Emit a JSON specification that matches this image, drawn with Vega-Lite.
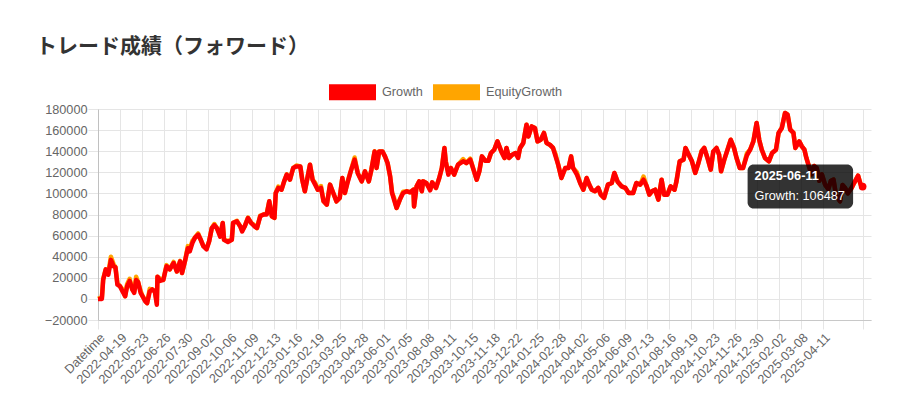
{
  "$schema": "https://vega.github.io/schema/vega-lite/v6.json",
  "width": 773,
  "height": 211,
  "autosize": {"type": "none"},
  "padding": {"left": 98, "top": 109, "right": 29, "bottom": 67},
  "background": "white",
  "title": {
    "text": "トレード成績（フォワード）",
    "anchor": "start",
    "frame": "group",
    "font": "Noto Sans CJK JP",
    "fontSize": 21,
    "fontWeight": "bold",
    "color": "#333333",
    "dx": -62,
    "dy": 19,
    "baseline": "alphabetic",
    "offset": 13.5
  },
  "config": {
    "font": "Liberation Sans",
    "view": {"stroke": null},
    "axisY": {"labelOverlap": false}
  },
  "datasets": {
    "perf": [
      {"day": 0, "Growth": 0, "EquityGrowth": 0},
      {"day": 6, "Growth": 0, "EquityGrowth": 1500},
      {"day": 8, "Growth": 18000, "EquityGrowth": 19000},
      {"day": 12, "Growth": 28000, "EquityGrowth": 28000},
      {"day": 16, "Growth": 23000, "EquityGrowth": 25000},
      {"day": 20, "Growth": 37000, "EquityGrowth": 40000},
      {"day": 24, "Growth": 31000, "EquityGrowth": 33000},
      {"day": 27, "Growth": 30000, "EquityGrowth": 30000},
      {"day": 30, "Growth": 13500, "EquityGrowth": 15000},
      {"day": 34, "Growth": 12000, "EquityGrowth": 12000},
      {"day": 38, "Growth": 7000, "EquityGrowth": 9000},
      {"day": 42, "Growth": 2500, "EquityGrowth": 2500},
      {"day": 45, "Growth": 12000, "EquityGrowth": 14000},
      {"day": 49, "Growth": 17000, "EquityGrowth": 19000},
      {"day": 53, "Growth": 9000, "EquityGrowth": 9000},
      {"day": 56, "Growth": 5700, "EquityGrowth": 7000},
      {"day": 59, "Growth": 18000, "EquityGrowth": 21000},
      {"day": 62, "Growth": 16000, "EquityGrowth": 16000},
      {"day": 66, "Growth": 5700, "EquityGrowth": 7500},
      {"day": 69, "Growth": 2500, "EquityGrowth": 2500},
      {"day": 73, "Growth": -2300, "EquityGrowth": -1000},
      {"day": 76, "Growth": -4000, "EquityGrowth": -4000},
      {"day": 80, "Growth": 7000, "EquityGrowth": 9500},
      {"day": 84, "Growth": 9000, "EquityGrowth": 9000},
      {"day": 88, "Growth": 7000, "EquityGrowth": 7000},
      {"day": 91, "Growth": -5500, "EquityGrowth": -3000},
      {"day": 92, "Growth": 21000, "EquityGrowth": 21000},
      {"day": 96, "Growth": 17000, "EquityGrowth": 19000},
      {"day": 101, "Growth": 18000, "EquityGrowth": 18000},
      {"day": 106, "Growth": 31000, "EquityGrowth": 32000},
      {"day": 111, "Growth": 28000, "EquityGrowth": 28000},
      {"day": 117, "Growth": 34000, "EquityGrowth": 35000},
      {"day": 122, "Growth": 26000, "EquityGrowth": 26000},
      {"day": 127, "Growth": 35600, "EquityGrowth": 36000},
      {"day": 130, "Growth": 24600, "EquityGrowth": 24600},
      {"day": 135, "Growth": 37000, "EquityGrowth": 37000},
      {"day": 139, "Growth": 48000, "EquityGrowth": 50000},
      {"day": 142, "Growth": 45000, "EquityGrowth": 47000},
      {"day": 146, "Growth": 53000, "EquityGrowth": 55000},
      {"day": 150, "Growth": 58000, "EquityGrowth": 58000},
      {"day": 155, "Growth": 61000, "EquityGrowth": 62000},
      {"day": 159, "Growth": 56000, "EquityGrowth": 56000},
      {"day": 163, "Growth": 50000, "EquityGrowth": 50000},
      {"day": 168, "Growth": 47000, "EquityGrowth": 48000},
      {"day": 172, "Growth": 54600, "EquityGrowth": 54600},
      {"day": 176, "Growth": 67000, "EquityGrowth": 67000},
      {"day": 180, "Growth": 70000, "EquityGrowth": 71000},
      {"day": 184, "Growth": 67000, "EquityGrowth": 67000},
      {"day": 189, "Growth": 59000, "EquityGrowth": 61000},
      {"day": 193, "Growth": 72000, "EquityGrowth": 72000},
      {"day": 195, "Growth": 56000, "EquityGrowth": 56000},
      {"day": 201, "Growth": 54000, "EquityGrowth": 55000},
      {"day": 207, "Growth": 56000, "EquityGrowth": 56000},
      {"day": 209, "Growth": 72000, "EquityGrowth": 72000},
      {"day": 215, "Growth": 73500, "EquityGrowth": 74000},
      {"day": 220, "Growth": 68800, "EquityGrowth": 68800},
      {"day": 223, "Growth": 64000, "EquityGrowth": 65000},
      {"day": 227, "Growth": 68800, "EquityGrowth": 68800},
      {"day": 232, "Growth": 76700, "EquityGrowth": 77000},
      {"day": 237, "Growth": 72000, "EquityGrowth": 72000},
      {"day": 242, "Growth": 68800, "EquityGrowth": 70000},
      {"day": 246, "Growth": 67200, "EquityGrowth": 67200},
      {"day": 251, "Growth": 78300, "EquityGrowth": 79000},
      {"day": 256, "Growth": 79900, "EquityGrowth": 79900},
      {"day": 261, "Growth": 79900, "EquityGrowth": 81000},
      {"day": 265, "Growth": 92500, "EquityGrowth": 92500},
      {"day": 269, "Growth": 78300, "EquityGrowth": 78300},
      {"day": 273, "Growth": 76700, "EquityGrowth": 76700},
      {"day": 275, "Growth": 100400, "EquityGrowth": 100400},
      {"day": 279, "Growth": 105200, "EquityGrowth": 106500},
      {"day": 284, "Growth": 103500, "EquityGrowth": 103500},
      {"day": 288, "Growth": 111400, "EquityGrowth": 111400},
      {"day": 292, "Growth": 117800, "EquityGrowth": 118000},
      {"day": 297, "Growth": 113000, "EquityGrowth": 113000},
      {"day": 302, "Growth": 124100, "EquityGrowth": 124100},
      {"day": 307, "Growth": 125600, "EquityGrowth": 126500},
      {"day": 313, "Growth": 125600, "EquityGrowth": 125600},
      {"day": 316, "Growth": 113000, "EquityGrowth": 113000},
      {"day": 320, "Growth": 102000, "EquityGrowth": 102000},
      {"day": 324, "Growth": 114600, "EquityGrowth": 114600},
      {"day": 328, "Growth": 127200, "EquityGrowth": 127200},
      {"day": 332, "Growth": 113000, "EquityGrowth": 113000},
      {"day": 336, "Growth": 108300, "EquityGrowth": 110000},
      {"day": 340, "Growth": 103500, "EquityGrowth": 103500},
      {"day": 345, "Growth": 105200, "EquityGrowth": 107000},
      {"day": 349, "Growth": 92500, "EquityGrowth": 92500},
      {"day": 354, "Growth": 89300, "EquityGrowth": 89300},
      {"day": 359, "Growth": 108300, "EquityGrowth": 108300},
      {"day": 364, "Growth": 100400, "EquityGrowth": 100400},
      {"day": 369, "Growth": 92500, "EquityGrowth": 92500},
      {"day": 374, "Growth": 95700, "EquityGrowth": 95700},
      {"day": 378, "Growth": 114600, "EquityGrowth": 114600},
      {"day": 382, "Growth": 100400, "EquityGrowth": 100400},
      {"day": 386, "Growth": 109900, "EquityGrowth": 111000},
      {"day": 391, "Growth": 120900, "EquityGrowth": 120900},
      {"day": 397, "Growth": 132000, "EquityGrowth": 134000},
      {"day": 402, "Growth": 119000, "EquityGrowth": 119000},
      {"day": 408, "Growth": 111400, "EquityGrowth": 111400},
      {"day": 413, "Growth": 120900, "EquityGrowth": 121000},
      {"day": 419, "Growth": 111400, "EquityGrowth": 111400},
      {"day": 423, "Growth": 122500, "EquityGrowth": 122500},
      {"day": 428, "Growth": 139800, "EquityGrowth": 140000},
      {"day": 431, "Growth": 124100, "EquityGrowth": 124100},
      {"day": 435, "Growth": 139800, "EquityGrowth": 139800},
      {"day": 440, "Growth": 139800, "EquityGrowth": 139800},
      {"day": 444, "Growth": 135100, "EquityGrowth": 135100},
      {"day": 448, "Growth": 128800, "EquityGrowth": 128800},
      {"day": 452, "Growth": 116100, "EquityGrowth": 116100},
      {"day": 455, "Growth": 100400, "EquityGrowth": 100400},
      {"day": 458, "Growth": 94100, "EquityGrowth": 96000},
      {"day": 462, "Growth": 86200, "EquityGrowth": 86200},
      {"day": 467, "Growth": 94100, "EquityGrowth": 94100},
      {"day": 472, "Growth": 100400, "EquityGrowth": 101500},
      {"day": 478, "Growth": 102000, "EquityGrowth": 102000},
      {"day": 483, "Growth": 101000, "EquityGrowth": 101000},
      {"day": 488, "Growth": 103500, "EquityGrowth": 103500},
      {"day": 489, "Growth": 87700, "EquityGrowth": 87700},
      {"day": 493, "Growth": 106700, "EquityGrowth": 106700},
      {"day": 497, "Growth": 111400, "EquityGrowth": 111400},
      {"day": 501, "Growth": 102000, "EquityGrowth": 102000},
      {"day": 503, "Growth": 111400, "EquityGrowth": 111400},
      {"day": 508, "Growth": 109900, "EquityGrowth": 109900},
      {"day": 514, "Growth": 102900, "EquityGrowth": 104000},
      {"day": 517, "Growth": 110500, "EquityGrowth": 110500},
      {"day": 523, "Growth": 105200, "EquityGrowth": 105200},
      {"day": 528, "Growth": 114600, "EquityGrowth": 114600},
      {"day": 532, "Growth": 124100, "EquityGrowth": 124100},
      {"day": 536, "Growth": 143100, "EquityGrowth": 143100},
      {"day": 538, "Growth": 130400, "EquityGrowth": 130400},
      {"day": 542, "Growth": 117800, "EquityGrowth": 120000},
      {"day": 546, "Growth": 124100, "EquityGrowth": 124100},
      {"day": 551, "Growth": 117800, "EquityGrowth": 117800},
      {"day": 557, "Growth": 127200, "EquityGrowth": 127200},
      {"day": 565, "Growth": 130400, "EquityGrowth": 132500},
      {"day": 570, "Growth": 128800, "EquityGrowth": 128800},
      {"day": 576, "Growth": 132000, "EquityGrowth": 133000},
      {"day": 581, "Growth": 122500, "EquityGrowth": 122500},
      {"day": 586, "Growth": 113000, "EquityGrowth": 113000},
      {"day": 590, "Growth": 120900, "EquityGrowth": 120900},
      {"day": 594, "Growth": 135100, "EquityGrowth": 135100},
      {"day": 599, "Growth": 131000, "EquityGrowth": 131000},
      {"day": 604, "Growth": 131000, "EquityGrowth": 131000},
      {"day": 608, "Growth": 138300, "EquityGrowth": 138300},
      {"day": 613, "Growth": 141400, "EquityGrowth": 141400},
      {"day": 618, "Growth": 149300, "EquityGrowth": 149300},
      {"day": 624, "Growth": 139800, "EquityGrowth": 139800},
      {"day": 629, "Growth": 133600, "EquityGrowth": 133600},
      {"day": 632, "Growth": 143100, "EquityGrowth": 143100},
      {"day": 636, "Growth": 133600, "EquityGrowth": 133600},
      {"day": 641, "Growth": 136700, "EquityGrowth": 136700},
      {"day": 646, "Growth": 138300, "EquityGrowth": 138300},
      {"day": 650, "Growth": 133600, "EquityGrowth": 134500},
      {"day": 653, "Growth": 143100, "EquityGrowth": 143100},
      {"day": 658, "Growth": 147800, "EquityGrowth": 147800},
      {"day": 663, "Growth": 165100, "EquityGrowth": 165100},
      {"day": 666, "Growth": 154000, "EquityGrowth": 154000},
      {"day": 671, "Growth": 163500, "EquityGrowth": 163500},
      {"day": 676, "Growth": 162000, "EquityGrowth": 162000},
      {"day": 680, "Growth": 149300, "EquityGrowth": 149300},
      {"day": 685, "Growth": 150900, "EquityGrowth": 150900},
      {"day": 690, "Growth": 157300, "EquityGrowth": 157300},
      {"day": 694, "Growth": 147800, "EquityGrowth": 147800},
      {"day": 699, "Growth": 146200, "EquityGrowth": 146200},
      {"day": 704, "Growth": 143100, "EquityGrowth": 143100},
      {"day": 708, "Growth": 135100, "EquityGrowth": 137000},
      {"day": 712, "Growth": 127200, "EquityGrowth": 127200},
      {"day": 717, "Growth": 114600, "EquityGrowth": 114600},
      {"day": 723, "Growth": 124100, "EquityGrowth": 124100},
      {"day": 728, "Growth": 124100, "EquityGrowth": 124100},
      {"day": 732, "Growth": 135100, "EquityGrowth": 135100},
      {"day": 735, "Growth": 124100, "EquityGrowth": 124100},
      {"day": 741, "Growth": 117800, "EquityGrowth": 120000},
      {"day": 746, "Growth": 109900, "EquityGrowth": 109900},
      {"day": 751, "Growth": 103500, "EquityGrowth": 103500},
      {"day": 756, "Growth": 114600, "EquityGrowth": 114600},
      {"day": 760, "Growth": 108300, "EquityGrowth": 108300},
      {"day": 764, "Growth": 103500, "EquityGrowth": 103500},
      {"day": 769, "Growth": 102000, "EquityGrowth": 102000},
      {"day": 774, "Growth": 105200, "EquityGrowth": 105200},
      {"day": 778, "Growth": 98800, "EquityGrowth": 98800},
      {"day": 783, "Growth": 95700, "EquityGrowth": 95700},
      {"day": 789, "Growth": 108300, "EquityGrowth": 108300},
      {"day": 795, "Growth": 109900, "EquityGrowth": 109900},
      {"day": 799, "Growth": 119400, "EquityGrowth": 119400},
      {"day": 804, "Growth": 111000, "EquityGrowth": 111000},
      {"day": 810, "Growth": 106700, "EquityGrowth": 106700},
      {"day": 816, "Growth": 105200, "EquityGrowth": 105200},
      {"day": 821, "Growth": 100400, "EquityGrowth": 100400},
      {"day": 828, "Growth": 100400, "EquityGrowth": 100400},
      {"day": 833, "Growth": 109900, "EquityGrowth": 109900},
      {"day": 839, "Growth": 108300, "EquityGrowth": 108300},
      {"day": 844, "Growth": 113000, "EquityGrowth": 116000},
      {"day": 849, "Growth": 106700, "EquityGrowth": 106700},
      {"day": 853, "Growth": 98800, "EquityGrowth": 98800},
      {"day": 857, "Growth": 102000, "EquityGrowth": 102000},
      {"day": 862, "Growth": 103500, "EquityGrowth": 103500},
      {"day": 867, "Growth": 94100, "EquityGrowth": 94100},
      {"day": 872, "Growth": 113000, "EquityGrowth": 113000},
      {"day": 876, "Growth": 98800, "EquityGrowth": 98800},
      {"day": 881, "Growth": 98800, "EquityGrowth": 98800},
      {"day": 886, "Growth": 106700, "EquityGrowth": 106700},
      {"day": 892, "Growth": 103500, "EquityGrowth": 103500},
      {"day": 895, "Growth": 111400, "EquityGrowth": 111400},
      {"day": 900, "Growth": 130400, "EquityGrowth": 130400},
      {"day": 906, "Growth": 132000, "EquityGrowth": 132000},
      {"day": 909, "Growth": 143100, "EquityGrowth": 143100},
      {"day": 914, "Growth": 136700, "EquityGrowth": 136700},
      {"day": 919, "Growth": 130400, "EquityGrowth": 130400},
      {"day": 924, "Growth": 119400, "EquityGrowth": 119400},
      {"day": 929, "Growth": 128800, "EquityGrowth": 128800},
      {"day": 934, "Growth": 139800, "EquityGrowth": 140500},
      {"day": 938, "Growth": 143100, "EquityGrowth": 143100},
      {"day": 943, "Growth": 133600, "EquityGrowth": 133600},
      {"day": 948, "Growth": 122500, "EquityGrowth": 122500},
      {"day": 952, "Growth": 139800, "EquityGrowth": 139800},
      {"day": 957, "Growth": 143100, "EquityGrowth": 143100},
      {"day": 961, "Growth": 136700, "EquityGrowth": 136700},
      {"day": 964, "Growth": 120900, "EquityGrowth": 120900},
      {"day": 969, "Growth": 132000, "EquityGrowth": 132000},
      {"day": 974, "Growth": 141400, "EquityGrowth": 141400},
      {"day": 979, "Growth": 150900, "EquityGrowth": 150900},
      {"day": 984, "Growth": 143100, "EquityGrowth": 143100},
      {"day": 988, "Growth": 133600, "EquityGrowth": 133600},
      {"day": 993, "Growth": 124100, "EquityGrowth": 124100},
      {"day": 998, "Growth": 124100, "EquityGrowth": 124100},
      {"day": 1004, "Growth": 136000, "EquityGrowth": 138000},
      {"day": 1009, "Growth": 141400, "EquityGrowth": 141400},
      {"day": 1014, "Growth": 149300, "EquityGrowth": 149300},
      {"day": 1019, "Growth": 166800, "EquityGrowth": 166800},
      {"day": 1023, "Growth": 150900, "EquityGrowth": 150900},
      {"day": 1027, "Growth": 141400, "EquityGrowth": 141400},
      {"day": 1032, "Growth": 133600, "EquityGrowth": 133600},
      {"day": 1038, "Growth": 130400, "EquityGrowth": 130400},
      {"day": 1043, "Growth": 138300, "EquityGrowth": 138300},
      {"day": 1049, "Growth": 141400, "EquityGrowth": 141400},
      {"day": 1053, "Growth": 157300, "EquityGrowth": 157300},
      {"day": 1058, "Growth": 162000, "EquityGrowth": 162000},
      {"day": 1063, "Growth": 176200, "EquityGrowth": 176200},
      {"day": 1067, "Growth": 174600, "EquityGrowth": 174600},
      {"day": 1071, "Growth": 160400, "EquityGrowth": 160400},
      {"day": 1076, "Growth": 157300, "EquityGrowth": 157300},
      {"day": 1079, "Growth": 143100, "EquityGrowth": 143100},
      {"day": 1085, "Growth": 149300, "EquityGrowth": 149300},
      {"day": 1089, "Growth": 144600, "EquityGrowth": 144600},
      {"day": 1093, "Growth": 141400, "EquityGrowth": 141400},
      {"day": 1096, "Growth": 133600, "EquityGrowth": 133600},
      {"day": 1100, "Growth": 125600, "EquityGrowth": 125600},
      {"day": 1104, "Growth": 118000, "EquityGrowth": 118000},
      {"day": 1108, "Growth": 126000, "EquityGrowth": 126000},
      {"day": 1112, "Growth": 124100, "EquityGrowth": 124100},
      {"day": 1116, "Growth": 112000, "EquityGrowth": 112000},
      {"day": 1120, "Growth": 118000, "EquityGrowth": 118000},
      {"day": 1125, "Growth": 108300, "EquityGrowth": 108300},
      {"day": 1130, "Growth": 104000, "EquityGrowth": 104000},
      {"day": 1134, "Growth": 112000, "EquityGrowth": 112000},
      {"day": 1138, "Growth": 113000, "EquityGrowth": 113000},
      {"day": 1142, "Growth": 98000, "EquityGrowth": 98000},
      {"day": 1148, "Growth": 92500, "EquityGrowth": 92500},
      {"day": 1152, "Growth": 108000, "EquityGrowth": 108000},
      {"day": 1156, "Growth": 105200, "EquityGrowth": 105200},
      {"day": 1160, "Growth": 100000, "EquityGrowth": 100000},
      {"day": 1166, "Growth": 105200, "EquityGrowth": 105200},
      {"day": 1170, "Growth": 110000, "EquityGrowth": 110000},
      {"day": 1176, "Growth": 116800, "EquityGrowth": 116800},
      {"day": 1180, "Growth": 108300, "EquityGrowth": 108300},
      {"day": 1183, "Growth": 106487, "EquityGrowth": 106487}
    ],
    "hover": [
      {"day": 1183, "Growth": 106487, "date": "2025-06-11", "body": "Growth: 106487"}
    ]
  },
  "encoding": {
    "x": {
      "field": "day",
      "type": "quantitative",
      "scale": {"domain": [0, 1196], "nice": false, "zero": false},
      "axis": {
        "title": null,
        "values": [0, 34, 68, 102, 136, 170, 204, 238, 272, 306, 340, 374, 408, 442, 476, 510, 544, 578, 612, 646, 680, 714, 748, 782, 816, 850, 884, 918, 952, 986, 1020, 1054, 1088, 1122, 1183],
        "labelExpr": "datum.value == 0 ? 'Datetime' : (datum.value > 1150 ? '' : timeFormat(datetime(2022, 2, 16 + datum.value), '%Y-%m-%d'))",
        "labelAngle": -45,
        "labelAlign": "right",
        "labelBaseline": "top",
        "labelPadding": 2,
        "labelOverlap": false,
        "labelFlush": false,
        "labelBound": false,
        "labelFont": "Liberation Sans",
        "labelFontSize": 12.7,
        "labelColor": "#666666",
        "grid": true,
        "gridColor": "#e5e5e5",
        "tickColor": "#e5e5e5",
        "tickSize": 9,
        "domainColor": "#c8c8c8"
      }
    },
    "y": {
      "field": "EquityGrowth",
      "type": "quantitative",
      "scale": {"domain": [-20000, 180000], "nice": false, "zero": false},
      "axis": {
        "title": null,
        "values": [-20000, 0, 20000, 40000, 60000, 80000, 100000, 120000, 140000, 160000, 180000],
        "format": "d",
        "labelOverlap": false,
        "labelFlush": false,
        "labelBound": false,
        "labelFont": "Liberation Sans",
        "labelFontSize": 12.7,
        "labelColor": "#666666",
        "labelPadding": 1,
        "grid": true,
        "gridColor": "#e5e5e5",
        "tickColor": "#e5e5e5",
        "tickSize": 10,
        "domainColor": "#c0c0c0"
      }
    }
  },
  "layer": [
    {
      "data": {"name": "hover"},
      "mark": {"type": "rule", "color": "#c0c0c0", "strokeWidth": 1},
      "encoding": {
        "x": null,
        "y": {"datum": 0, "type": "quantitative"}
      }
    },
    {
      "data": {"name": "perf"},
      "mark": {"type": "line", "strokeWidth": 4.5, "strokeJoin": "round"},
      "encoding": {
        "color": {
          "datum": "EquityGrowth",
          "scale": {"domain": ["Growth", "EquityGrowth"], "range": ["#ff0000", "#ffa500"]},
          "legend": {
            "title": null,
            "orient": "none",
            "direction": "horizontal",
            "legendX": 231,
            "legendY": -40.5,
            "symbolType": "M-1,-0.34L1,-0.34L1,0.34L-1,0.34Z",
            "symbolSize": 2209,
            "symbolStrokeWidth": 0,
            "labelOffset": 6,
            "columnPadding": 10,
            "labelFont": "Liberation Sans",
            "labelFontSize": 12.7,
            "labelColor": "#666666",
            "encode": {
              "symbols": {"update": {"fill": {"scale": "color", "field": "value"}, "stroke": {"value": "transparent"}, "opacity": {"value": 1}}}
            }
          }
        }
      }
    },
    {
      "data": {"name": "perf"},
      "mark": {"type": "line", "strokeWidth": 4.5, "strokeJoin": "round"},
      "encoding": {
        "y": {"field": "Growth", "type": "quantitative"},
        "color": {"datum": "Growth"}
      }
    },
    {
      "data": {"name": "hover"},
      "mark": {"type": "point", "filled": true, "size": 60, "opacity": 1, "color": "#ff0000"},
      "encoding": {
        "y": {"field": "Growth", "type": "quantitative"}
      }
    },
    {
      "data": {"name": "hover"},
      "mark": {"type": "rect", "color": "#000000", "opacity": 0.8, "cornerRadius": 6, "xOffset": -115, "x2Offset": -9.5, "yOffset": -22, "y2Offset": 22},
      "encoding": {
        "x2": {"field": "day"},
        "y": {"field": "Growth", "type": "quantitative"},
        "y2": {"field": "Growth"}
      }
    },
    {
      "data": {"name": "hover"},
      "mark": {"type": "text", "align": "left", "baseline": "alphabetic", "dx": -108, "dy": -6.5, "fontWeight": "bold", "font": "Liberation Sans", "fontSize": 12.7, "color": "#ffffff"},
      "encoding": {
        "y": {"field": "Growth", "type": "quantitative"},
        "text": {"field": "date"}
      }
    },
    {
      "data": {"name": "hover"},
      "mark": {"type": "text", "align": "left", "baseline": "alphabetic", "dx": -108, "dy": 13, "font": "Liberation Sans", "fontSize": 12.7, "color": "#ffffff"},
      "encoding": {
        "y": {"field": "Growth", "type": "quantitative"},
        "text": {"field": "body"}
      }
    }
  ]
}
